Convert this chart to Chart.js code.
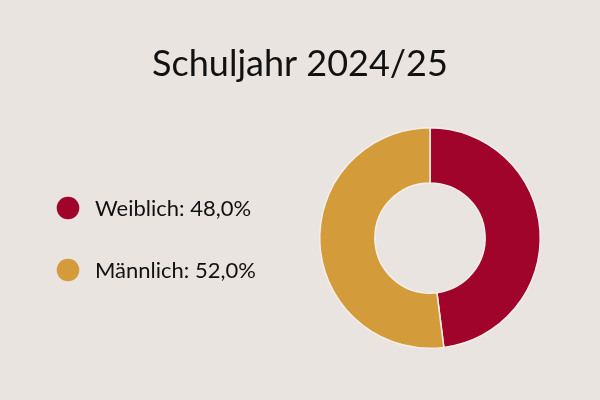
<!DOCTYPE html>
<html><head><meta charset="utf-8">
<script src="https://cdn.jsdelivr.net/npm/chart.js@4"></script>
<style>html,body{margin:0;padding:0;background:#e9e4e0;}#wrap{width:600px;height:400px;position:relative;}</style>
</head><body><div id="wrap"><canvas id="c" width="600" height="400"></canvas></div>
<script>
const titleText = "Schuljahr 2024/25";
const categories = ["Weiblich", "Männlich"];
const values = [48.0, 52.0];
const colors = ["#a0042b", "#d39b39"];

const FONT = "Lato, 'Open Sans', sans-serif";
const textPlugin = {
  id: 'textPlugin',
  afterDraw(chart) {
    const ctx = chart.ctx;
    ctx.save();
    ctx.fillStyle = '#111';
    ctx.textAlign = 'center';
    ctx.textBaseline = 'alphabetic';
    ctx.font = "36px " + FONT;
    ctx.fillText(titleText, 300, 76);
    ctx.textAlign = 'left';
    ctx.font = "22px " + FONT;
    categories.forEach((c, i) => {
      const y = 208 + i * 62;
      ctx.beginPath();
      ctx.fillStyle = colors[i];
      ctx.arc(68, y, 11.3, 0, Math.PI * 2);
      ctx.fill();
      ctx.fillStyle = '#111';
      ctx.textBaseline = 'middle';
      ctx.fillText(c + ": " + values[i].toFixed(1).replace('.', ',') + "%", 95, y + 1);
    });
    ctx.restore();
  }
};

new Chart(document.getElementById('c'), {
  type: 'doughnut',
  data: { labels: categories, datasets: [{ data: values, backgroundColor: colors, borderColor: '#f3efeb', borderWidth: 1.5, hoverOffset: 0 }] },
  options: {
    responsive: false, animation: false, cutout: '50%',
    layout: { padding: { left: 319, right: 59, top: 127, bottom: 51 } },
    plugins: { legend: { display: false }, title: { display: false }, tooltip: { enabled: false } }
  },
  plugins: [textPlugin]
});
</script></body></html>
